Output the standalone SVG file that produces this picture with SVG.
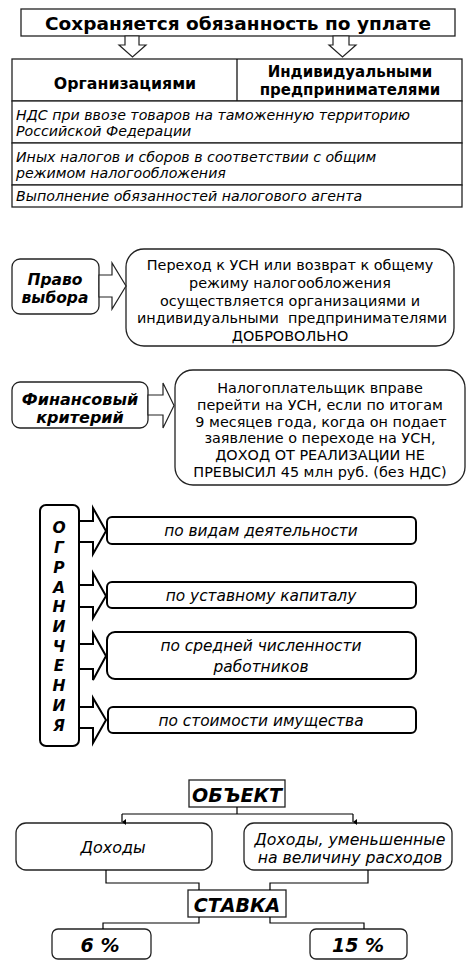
<svg xmlns="http://www.w3.org/2000/svg" width="474" height="965" viewBox="0 0 474 965">
<style>
text{font-family:"DejaVu Sans","Verdana",sans-serif;fill:#000}
.b{font-weight:bold}
.i{font-style:italic}
.bi{font-weight:bold;font-style:italic}
.c{text-anchor:middle}
.box{fill:#fff;stroke:#222;stroke-width:1.3}
.tbox{fill:#fff;stroke:#000;stroke-width:2}
.arr{fill:#fff;stroke:#222;stroke-width:1.2;stroke-linejoin:miter}
.tarr{fill:#fff;stroke:#000;stroke-width:2;stroke-linejoin:miter}
.ln{fill:none;stroke:#000;stroke-width:1.2}
.row{font-style:italic;font-size:14.2px}
.lim{font-style:italic;font-size:15.4px;text-anchor:middle}
</style>
<defs>
<marker id="ah" markerWidth="6" markerHeight="6" refX="3" refY="5" orient="auto" markerUnits="userSpaceOnUse" viewBox="0 0 6 6">
<path d="M0,1 L3,5 L6,1 Z" fill="#000"/>
</marker>
</defs>
<rect width="474" height="965" fill="#fff"/>

<g id="top">
<rect class="box" x="21" y="9" width="434" height="27"/>
<text class="b c" x="238" y="30" font-size="18.5">Сохраняется обязанность по уплате</text>
</g>

<g id="table">
<rect class="box" x="12" y="59" width="450" height="42"/>
<line class="ln" x1="237" y1="59" x2="237" y2="101"/>
<text class="b c" x="125" y="89" font-size="15.8">Организациями</text>
<text class="b c" x="350" y="77" font-size="15">Индивидуальными</text>
<text class="b c" x="350" y="95" font-size="15">предпринимателями</text>
<rect class="box" x="12" y="101" width="450" height="42"/>
<text class="row" x="16" y="120">НДС при ввозе товаров на таможенную территорию</text>
<text class="row" x="16" y="136">Российской Федерации</text>
<rect class="box" x="12" y="143" width="450" height="42"/>
<text class="row" x="16" y="162">Иных налогов и сборов в соответствии с общим</text>
<text class="row" x="16" y="178">режимом налогообложения</text>
<rect class="box" x="12" y="185" width="450" height="22"/>
<text class="row" x="16" y="201">Выполнение обязанностей налогового агента</text>
</g>

<g id="choice">
<rect class="box" x="12" y="259" width="87" height="55" rx="8"/>
<text class="bi c" x="55" y="285" font-size="15.5">Право</text>
<text class="bi c" x="55" y="303" font-size="15.5">выбора</text>
</g>
<g id="choice-text">
<rect class="box" x="126" y="249" width="328" height="97" rx="18"/>
<g font-size="14.4">
<text class="c" x="290" y="270">Переход к УСН или возврат к общему</text>
<text class="c" x="290" y="288">режиму налогообложения</text>
<text class="c" x="290" y="306">осуществляется организациями и</text>
<text class="c" x="292" y="323">индивидуальными&#160; предпринимателями</text>
<text class="c" x="290" y="341">ДОБРОВОЛЬНО</text>
</g>
</g>

<g id="fin">
<rect class="box" x="12" y="382" width="136" height="46" rx="8"/>
<text class="bi c" x="80" y="405" font-size="16">Финансовый</text>
<text class="bi c" x="80" y="423" font-size="16">критерий</text>
</g>
<g id="fin-text">
<rect class="box" x="175" y="370" width="290" height="115" rx="18"/>
<g font-size="14.4">
<text class="c" x="320" y="393">Налогоплательщик вправе</text>
<text class="c" x="320" y="410">перейти на УСН, если по итогам</text>
<text class="c" x="321" y="427">9 месяцев года, когда он подает</text>
<text class="c" x="320" y="443">заявление о переходе на УСН,</text>
<text class="c" x="320" y="460">ДОХОД ОТ РЕАЛИЗАЦИИ НЕ</text>
<text class="c" x="320" y="477">ПРЕВЫСИЛ 45 млн руб. (без НДС)</text>
</g>
</g>

<g id="limits">
<rect class="tbox" x="40" y="505" width="39" height="241" rx="6"/>
<g class="bi c" font-size="15.5">
<text x="59" y="533">О</text>
<text x="59" y="553">Г</text>
<text x="59" y="573">Р</text>
<text x="59" y="593">А</text>
<text x="59" y="612">Н</text>
<text x="59" y="632">И</text>
<text x="59" y="652">Ч</text>
<text x="59" y="671">Е</text>
<text x="59" y="691">Н</text>
<text x="59" y="711">И</text>
<text x="59" y="731">Я</text>
</g>
</g>
<g id="lim1">
<rect class="tbox" x="107" y="517" width="309" height="27" rx="5"/>
<text class="lim" x="261" y="536">по видам деятельности</text>
</g>
<g id="lim2">
<rect class="tbox" x="107" y="582" width="309" height="26" rx="5"/>
<text class="lim" x="261" y="601">по уставному капиталу</text>
</g>
<g id="lim3">
<rect class="tbox" x="107" y="632" width="309" height="47" rx="8"/>
<text class="lim" x="261" y="651">по средней численности</text>
<text class="lim" x="261" y="672">работников</text>
</g>
<g id="lim4">
<rect class="tbox" x="108" y="707" width="308" height="26" rx="5"/>
<text class="lim" x="261" y="726">по стоимости имущества</text>
</g>

<g id="obj">
<rect class="box" x="189" y="780" width="96" height="27"/>
<text class="bi c" x="237" y="802" font-size="19">ОБЪЕКТ</text>
</g>
<g id="inc">
<rect class="box" x="16" y="823" width="196" height="47" rx="10"/>
<text class="i c" x="113" y="853" font-size="16">Доходы</text>
</g>
<g id="incexp">
<rect class="box" x="244" y="823" width="208" height="47" rx="10"/>
<text class="i c" x="350" y="845" font-size="15.7">Доходы, уменьшенные</text>
<text class="i c" x="350" y="863" font-size="15.7">на величину расходов</text>
</g>
<g id="rate">
<rect class="box" x="188" y="890" width="98" height="27"/>
<text class="bi c" x="237" y="912" font-size="19">СТАВКА</text>
</g>
<g id="r6">
<rect class="box" x="52" y="929" width="99" height="30" rx="6"/>
<text class="bi c" x="100" y="952" font-size="19">6 %</text>
</g>
<g id="r15">
<rect class="box" x="310" y="929" width="97" height="30" rx="6"/>
<text class="bi c" x="358" y="952" font-size="19">15 %</text>
</g>

<g id="connectors">
<path class="arr" d="M125,36 L139,36 L139,45 L146,45 L132.5,57 L119,45 L125,45 Z"/>
<path class="arr" d="M333,36 L349,36 L349,45 L356,45 L342.5,57 L329,45 L333,45 Z"/>
<path class="arr" d="M99,275 L112,275 L112,263 L126,286 L112,309 L112,297 L99,297 Z"/>
<path class="arr" d="M148,395 L163,395 L163,383 L174,405.5 L163,428 L163,415 L148,415 Z"/>
<path class="tarr" d="M79,521 L93,521 L93,508 L106,531 L93,554 L93,542 L79,542 Z"/>
<path class="tarr" d="M79,585 L93,585 L93,573 L106,596 L93,618 L93,607 L79,607 Z"/>
<path class="tarr" d="M79,644 L93,644 L93,633 L106,656 L93,680 L93,669 L79,669 Z"/>
<path class="tarr" d="M79,707 L93,707 L93,698 L106,720 L93,743 L93,728 L79,728 Z"/>
<path class="ln" d="M237,807 V814 M122,814 H353"/>
<path class="ln" d="M122,814 V822" marker-end="url(#ah)"/>
<path class="ln" d="M353,814 V822" marker-end="url(#ah)"/>
<path class="ln" d="M106,870 V883 H199 V890"/>
<path class="ln" d="M368,870 V883 H270 V890"/>
<path class="ln" d="M199,917 V923 H103 V929"/>
<path class="ln" d="M270,917 V923 H364 V929"/>
</g>
</svg>
